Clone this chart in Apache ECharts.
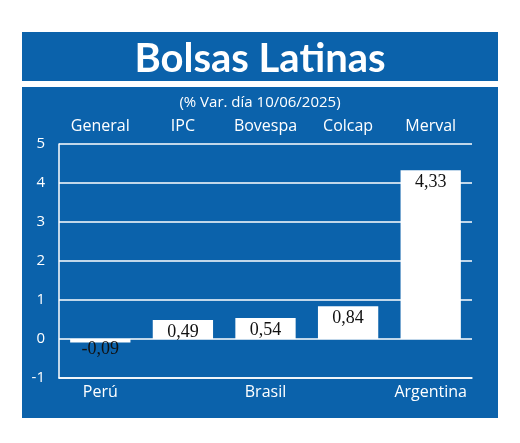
<!DOCTYPE html>
<html>
<head>
<meta charset="utf-8">
<script src="https://cdn.jsdelivr.net/npm/echarts@6/dist/echarts.min.js"></script>
<style>
  * { margin: 0; padding: 0; }
  #container { width: 520px; height: 443px; background: #fff; }
</style>
</head>
<body>
<div id="container"></div>
<script>
  // data
  var countries = ['Perú', 'México', 'Brasil', 'Colombia', 'Argentina'];
  var indices = ['General', 'IPC', 'Bovespa', 'Colcap', 'Merval'];
  var values = [-0.09, 0.49, 0.54, 0.84, 4.33];

  var blue = '#0b62ab';
  var font = '"Open Sans", Lato, sans-serif';

  var barData = values.map(function (v) {
    return {
      value: v,
      label: v < 0 ? { position: 'bottom', distance: -2 } : { position: 'insideTop', distance: 3 }
    };
  });

  var chart = echarts.init(document.getElementById('container'));
  chart.setOption({
    animation: false,
    graphic: [
      { type: 'rect', z: -10, shape: { x: 22, y: 32, width: 476, height: 49 }, style: { fill: blue } },
      { type: 'rect', z: -10, shape: { x: 22, y: 87, width: 476, height: 331 }, style: { fill: blue } }
    ],
    title: [
      { text: 'Bolsas Latinas', left: 'center', top: 34,
        textStyle: { color: '#fff', fontSize: 40, fontWeight: 'bold', fontFamily: 'Lato, sans-serif' } },
      { text: '(% Var. día 10/06/2025)', left: 'center', top: 90,
        textStyle: { color: '#fff', fontSize: 15, fontWeight: 'normal', fontFamily: font } }
    ],
    grid: { left: 59, right: 48, top: 144, bottom: 65 },
    xAxis: [
      { type: 'category', data: countries, position: 'bottom',
        axisLine: { show: false }, axisTick: { show: false },
        axisLabel: { color: '#fff', fontSize: 16, fontFamily: font, margin: 6 } },
      { type: 'category', data: indices, position: 'top',
        axisLine: { show: false }, axisTick: { show: false },
        axisLabel: { color: '#fff', fontSize: 16, fontFamily: font, margin: 10 } },
      { type: 'category', data: countries, position: 'bottom', gridIndex: 0,
        axisLine: { onZero: true, lineStyle: { color: '#fff', width: 1.5 } },
        axisTick: { inside: true, length: 6, lineStyle: { color: '#fff' } },
        axisLabel: { show: false } }
    ],
    yAxis: {
      type: 'value', min: -1, max: 5, interval: 1,
      axisLine: { show: true, onZero: false, lineStyle: { color: '#fff', width: 1.5 } },
      axisTick: { show: false },
      splitLine: { lineStyle: { color: '#fff', width: 1.5 } },
      axisLabel: { color: '#fff', fontSize: 15, fontFamily: font, margin: 14 }
    },
    series: [{
      type: 'bar', xAxisIndex: 0, data: barData, barWidth: '73%',
      itemStyle: { color: '#fff' },
      label: {
        show: true, color: '#111', fontSize: 18, fontFamily: '"Liberation Serif", serif',
        formatter: function (p) { return p.value.toFixed(2).replace('.', ','); }
      }
    }]
  });
</script>
</body>
</html>
